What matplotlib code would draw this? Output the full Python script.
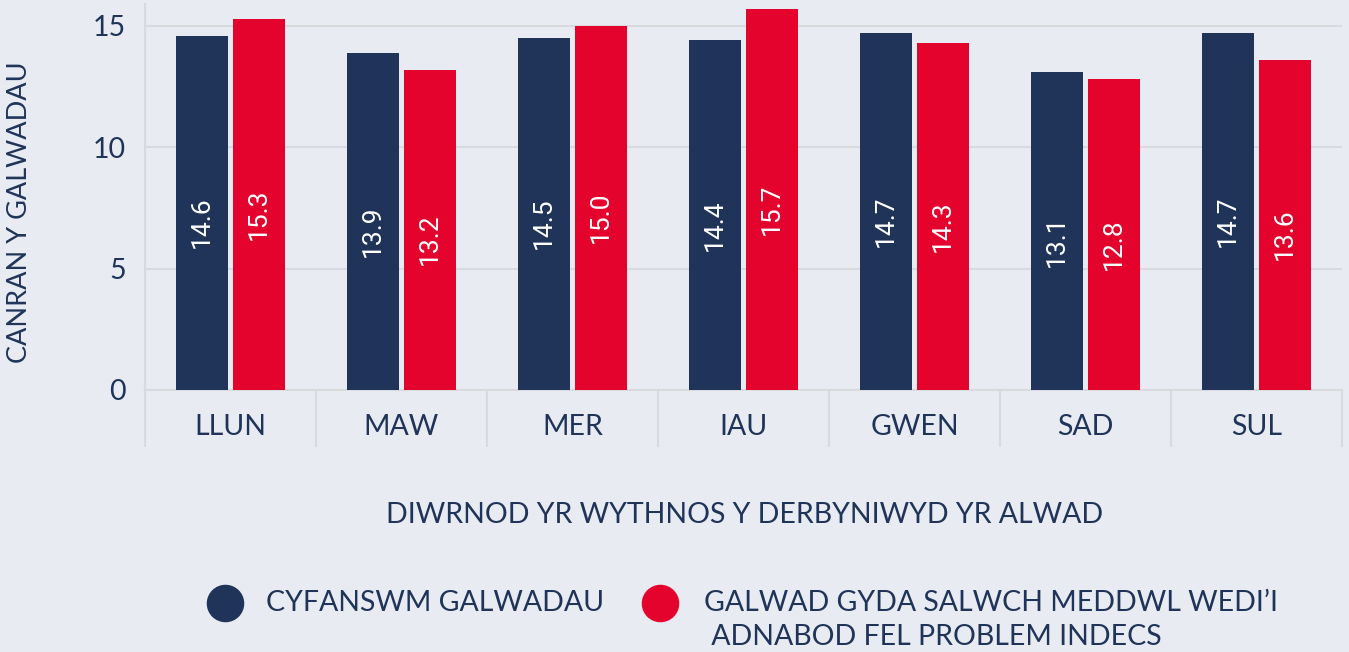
import numpy as np
import matplotlib.pyplot as plt
from matplotlib.lines import Line2D

days = ['LLUN', 'MAW', 'MER', 'IAU', 'GWEN', 'SAD', 'SUL']
total_calls = [14.6, 13.9, 14.5, 14.4, 14.7, 13.1, 14.7]
mh_calls = [15.3, 13.2, 15.0, 15.7, 14.3, 12.8, 13.6]
series_names = ['CYFANSWM GALWADAU',
                'GALWAD GYDA SALWCH MEDDWL WEDI\u2019I\n ADNABOD FEL PROBLEM INDECS']
yticks = [0, 5, 10, 15]

navy = '#1f3458'
red = '#e4032c'
bg = '#e8ebf2'
grid = '#d8dade'

plt.rcParams['font.family'] = ['Lato', 'DejaVu Sans']
fs = 20.5

px = 1 / 100
fig = plt.figure(figsize=(1349 * px, 652 * px), dpi=100, facecolor=bg)
ax = fig.add_axes([145 / 1349, 1 - 390 / 652, (1342 - 145) / 1349, 386 / 652])
ax.set_facecolor(bg)

x = np.arange(len(days))
w = 0.305
off = 0.167
b1 = ax.bar(x - off, total_calls, w, color=navy, zorder=3)
b2 = ax.bar(x + off, mh_calls, w, color=red, zorder=3)

for bars, vals in ((b1, total_calls), (b2, mh_calls)):
    for r, v in zip(bars, vals):
        ax.text(r.get_x() + r.get_width() / 2, v / 2 - 0.4, f'{v:.1f}', rotation=90,
                ha='center', va='center', color='white', fontsize=19,
                family=['Roboto', 'DejaVu Sans'], zorder=4)

ax.set_xlim(-0.5, len(days) - 0.5)
ax.set_ylim(0, 15.9)
ax.set_yticks(yticks)
ax.set_yticklabels([str(t) for t in yticks], fontsize=fs, color=navy)
ax.set_xticks(x)
ax.set_xticklabels(days, fontsize=fs, color=navy)
ax.tick_params(axis='x', length=0, pad=17)
ax.tick_params(axis='y', length=0, pad=14)
ax.set_xticks(np.arange(-0.5, len(days), 1), minor=True)
ax.tick_params(axis='x', which='minor', length=41, width=1.5, color=grid, direction='out')

ax.yaxis.grid(True, color=grid, linewidth=1.5, zorder=0)
for s in ['top', 'right']:
    ax.spines[s].set_visible(False)
ax.spines['left'].set_color(grid)
ax.spines['left'].set_linewidth(1.5)
ax.spines['bottom'].set_color(grid)
ax.spines['bottom'].set_linewidth(1.5)

fig.text(20 / 1349, 1 - 212 / 652, 'CANRAN Y GALWADAU', rotation=90,
         ha='center', va='center', fontsize=19.5, color=navy)
fig.text(745 / 1349, 1 - 515 / 652, 'DIWRNOD YR WYTHNOS Y DERBYNIWYD YR ALWAD',
         ha='center', va='center', fontsize=fs, color=navy)

# legend drawn by hand so the red dot sits on the first text line
for cx, tx, col, name in ((225, 266, navy, series_names[0]),
                          (660, 704, red, series_names[1])):
    fig.add_artist(Line2D([cx / 1349], [1 - 603 / 652], marker='o', markersize=26,
                          color=col, linestyle='none', transform=fig.transFigure))
    for i, line in enumerate(name.split('\n')):
        fig.text(tx / 1349, 1 - (603 + 34 * i) / 652, line, ha='left', va='center',
                 fontsize=fs, color=navy)

fig.savefig('out.png', dpi=100, facecolor=bg)
